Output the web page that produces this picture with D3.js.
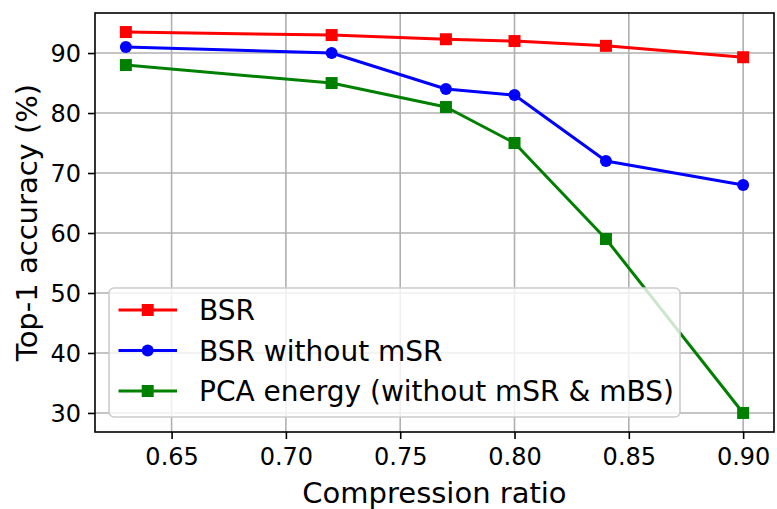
<!DOCTYPE html>
<html><head><meta charset="utf-8">
<script src="https://cdn.jsdelivr.net/npm/d3@7"></script>
<style>body{margin:0;background:#fff}svg{display:block}text{font-family:"DejaVu Sans",sans-serif}</style>
</head><body><svg id="c" width="777" height="509"></svg>
<script>
const ratios = [0.63, 0.72, 0.77, 0.80, 0.84, 0.90];
const bsr = [93.5, 93.0, 92.3, 92.0, 91.2, 89.3];
const bsrNoMSR = [91.0, 90.0, 84.0, 83.0, 72.0, 68.0];
const pcaEnergy = [88.0, 85.0, 81.0, 75.0, 59.0, 30.0];
const seriesNames = ["BSR", "BSR without mSR", "PCA energy (without mSR & mBS)"];
const seriesColors = ["#ff0000", "#0000ff", "#008000"];
const seriesMarkers = ["square", "circle", "square"];
const xTicks = [0.65, 0.70, 0.75, 0.80, 0.85, 0.90];
const yTicks = [30, 40, 50, 60, 70, 80, 90];
const xLabel = "Compression ratio";
const yLabel = "Top-1 accuracy (%)";

const series = [bsr, bsrNoMSR, pcaEnergy].map((v, i) => ({
  name: seriesNames[i], color: seriesColors[i], marker: seriesMarkers[i],
  pts: v.map((y, j) => ({x: ratios[j], y}))
}));

const L = 95, R = 774, T = 13, B = 432;
const xmin = d3.min(ratios), xmax = d3.max(ratios);
const allY = [].concat(bsr, bsrNoMSR, pcaEnergy);
const ymin = d3.min(allY), ymax = d3.max(allY);
const mx = (xmax - xmin) * 0.05, my = (ymax - ymin) * 0.05;
const x = d3.scaleLinear().domain([xmin - mx, xmax + mx]).range([L, R]);
const y = d3.scaleLinear().domain([ymin - my, ymax + my]).range([B, T]);

const svg = d3.select("#c");
// grid
const g = svg.append("g");
g.selectAll(".gx").data(xTicks).enter().append("line")
  .attr("x1", d => x(d)).attr("x2", d => x(d)).attr("y1", T).attr("y2", B)
  .attr("stroke", "#b0b0b0").attr("stroke-width", 1.6);
g.selectAll(".gy").data(yTicks).enter().append("line")
  .attr("y1", d => y(d)).attr("y2", d => y(d)).attr("x1", L).attr("x2", R)
  .attr("stroke", "#b0b0b0").attr("stroke-width", 1.6);

// axes
const xAxis = d3.axisBottom(x).tickValues(xTicks).tickFormat(d3.format(".2f")).tickSize(7).tickPadding(7);
const yAxis = d3.axisLeft(y).tickValues(yTicks).tickFormat(d3.format("d")).tickSize(7).tickPadding(7);
const gx = svg.append("g").attr("transform", `translate(0,${B})`).call(xAxis);
const gy = svg.append("g").attr("transform", `translate(${L},0)`).call(yAxis);
[gx, gy].forEach(a => {
  a.select(".domain").remove();
  a.selectAll(".tick line").attr("stroke", "#000").attr("stroke-width", 1.6);
  a.selectAll(".tick text").attr("font-size", 24).attr("fill", "#000").attr("font-family", "DejaVu Sans");
});
gy.selectAll(".tick text").attr("dy", "0.36em");
gx.selectAll(".tick text").attr("dy", "0.78em");

// lines + markers
const line = d3.line().x(d => x(d.x)).y(d => y(d.y));
const ms = 12;
series.forEach(s => {
  svg.append("path").datum(s.pts).attr("d", line).attr("fill", "none")
    .attr("stroke", s.color).attr("stroke-width", 3).attr("stroke-linejoin", "round");
  const sym = d3.symbol().type(s.marker === "square" ? d3.symbolSquare : d3.symbolCircle)
    .size(s.marker === "square" ? ms * ms : Math.PI * (ms / 2) * (ms / 2));
  svg.append("g").selectAll("path").data(s.pts).enter().append("path")
    .attr("d", sym).attr("transform", d => `translate(${x(d.x)},${y(d.y)})`)
    .attr("fill", s.color);
});

// spines
svg.append("rect").attr("x", L).attr("y", T).attr("width", R - L).attr("height", B - T)
  .attr("fill", "none").attr("stroke", "#000").attr("stroke-width", 1.6);

// legend
const lg = svg.append("g");
const lx = 109, ly = 288, lw = 571, lh = 129;
lg.append("rect").attr("x", lx).attr("y", ly).attr("width", lw).attr("height", lh)
  .attr("rx", 5).attr("fill", "#fff").attr("fill-opacity", 0.8)
  .attr("stroke", "#cccccc").attr("stroke-width", 1.6);
const rowY = [310, 350.5, 391];
series.forEach((s, i) => {
  const cy = rowY[i];
  lg.append("line").attr("x1", 118.5).attr("x2", 177).attr("y1", cy).attr("y2", cy)
    .attr("stroke", s.color).attr("stroke-width", 3);
  const sym = d3.symbol().type(s.marker === "square" ? d3.symbolSquare : d3.symbolCircle)
    .size(s.marker === "square" ? ms * ms : Math.PI * (ms / 2) * (ms / 2));
  lg.append("path").attr("d", sym).attr("transform", `translate(147.7,${cy})`).attr("fill", s.color);
  lg.append("text").attr("x", 199).attr("y", cy).attr("dy", "0.36em")
    .attr("font-size", 28).attr("fill", "#000").text(s.name);
});

// axis labels
svg.append("text").attr("x", (L + R) / 2).attr("y", 503).attr("text-anchor", "middle")
  .attr("font-size", 29).attr("fill", "#000").text(xLabel);
svg.append("text").attr("transform", `translate(37,${(T + B) / 2}) rotate(-90)`)
  .attr("text-anchor", "middle").attr("font-size", 29).attr("fill", "#000").text(yLabel);
</script></body></html>
